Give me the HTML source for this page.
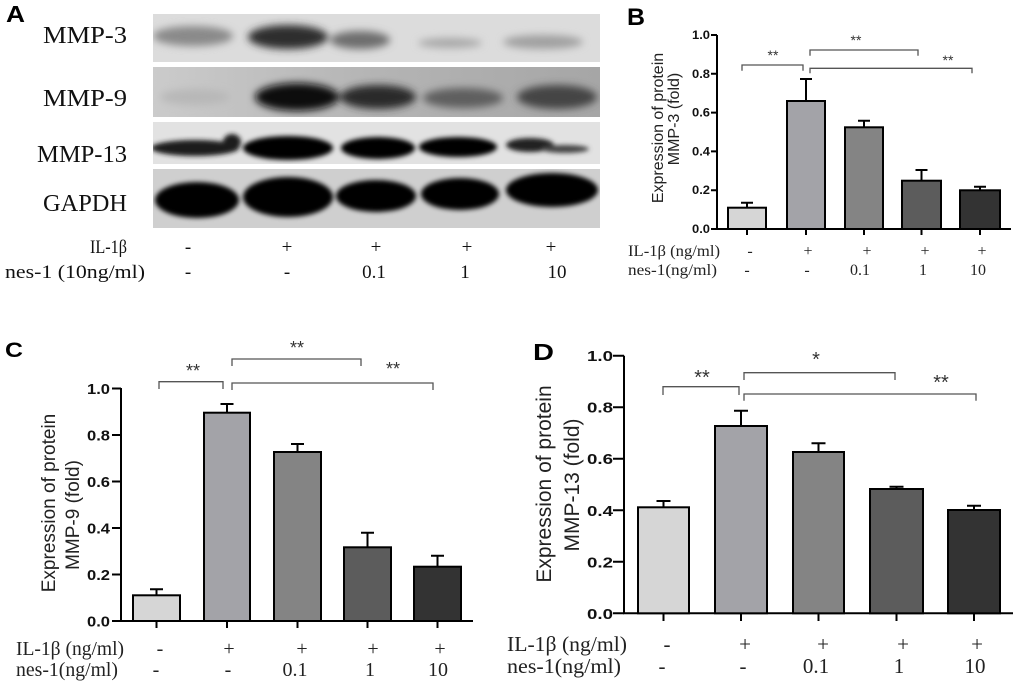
<!DOCTYPE html>
<html><head><meta charset="utf-8"><style>
html,body{margin:0;padding:0;background:#fff;}
svg{display:block;}
.s{font-family:"Liberation Sans",Arial,sans-serif;}
.r{font-family:"Liberation Serif","Times New Roman",serif;}
</style></head><body>
<svg width="1020" height="688" viewBox="0 0 1020 688" xmlns="http://www.w3.org/2000/svg">
<defs>
<filter id="bl" x="-50%" y="-100%" width="200%" height="300%"><feGaussianBlur stdDeviation="4"/></filter>
<filter id="bs" x="-50%" y="-100%" width="200%" height="300%"><feGaussianBlur stdDeviation="2.5"/></filter>
<clipPath id="k1"><rect x="153" y="14" width="447" height="48"/></clipPath>
<clipPath id="k2"><rect x="153" y="67" width="447" height="50"/></clipPath>
<clipPath id="k3"><rect x="153" y="122" width="447" height="42"/></clipPath>
<clipPath id="k4"><rect x="153" y="169" width="447" height="59"/></clipPath>
<linearGradient id="g9" x1="0" y1="0" x2="1" y2="0"><stop offset="0" stop-color="#cbcbcb"/><stop offset="0.5" stop-color="#b4b4b4"/><stop offset="1" stop-color="#a6a6a6"/></linearGradient>
</defs>
<rect width="1020" height="688" fill="#fff"/>

<!-- ===== Panel A ===== -->
<text class="s" x="6" y="22" font-size="23" font-weight="bold" textLength="19" lengthAdjust="spacingAndGlyphs">A</text>
<g class="r" font-size="24" text-anchor="end" fill="#111">
<text x="127" y="43" textLength="84" lengthAdjust="spacingAndGlyphs">MMP-3</text>
<text x="127" y="106" textLength="84" lengthAdjust="spacingAndGlyphs">MMP-9</text>
<text x="127" y="162" textLength="90" lengthAdjust="spacingAndGlyphs">MMP-13</text>
<text x="127" y="211" textLength="84" lengthAdjust="spacingAndGlyphs">GAPDH</text>
</g>
<!-- MMP-3 strip -->
<g clip-path="url(#k1)">
<rect x="153" y="14" width="447" height="48" fill="#dcdcdc"/>
<g filter="url(#bl)">
<ellipse cx="193" cy="36" rx="40" ry="10" fill="#8a8a8a"/>
<ellipse cx="288" cy="37" rx="40" ry="12" fill="#2e2e2e"/>
<ellipse cx="360" cy="40" rx="30" ry="9" fill="#6e6e6e"/>
<ellipse cx="450" cy="43" rx="32" ry="5" fill="#a8a8a8"/>
<ellipse cx="543" cy="42" rx="40" ry="7" fill="#a0a0a0"/>
</g>
</g>
<!-- MMP-9 strip -->
<g clip-path="url(#k2)">
<rect x="153" y="67" width="447" height="50" fill="url(#g9)"/>
<g filter="url(#bl)">
<ellipse cx="195" cy="97" rx="35" ry="8" fill="#b8b8b8"/>
<ellipse cx="297" cy="97" rx="42" ry="14" fill="#0c0c0c"/>
<ellipse cx="378" cy="97" rx="38" ry="12" fill="#2c2c2c"/>
<ellipse cx="463" cy="98" rx="40" ry="10" fill="#5e5e5e"/>
<ellipse cx="557" cy="97" rx="40" ry="12" fill="#444"/>
</g>
</g>
<!-- MMP-13 strip -->
<g clip-path="url(#k3)">
<rect x="153" y="122" width="447" height="42" fill="#e2e2e2"/>
<g filter="url(#bs)">
<ellipse cx="195" cy="148" rx="44" ry="8" fill="#1a1a1a"/>
<ellipse cx="232" cy="142" rx="9" ry="8" fill="#1a1a1a"/>
<ellipse cx="288" cy="148" rx="45" ry="12" fill="#000"/>
<ellipse cx="378" cy="148" rx="37" ry="11" fill="#000"/>
<ellipse cx="458" cy="147" rx="39" ry="10" fill="#000"/>
<ellipse cx="530" cy="145" rx="24" ry="7" fill="#222"/>
<ellipse cx="565" cy="149" rx="24" ry="4" fill="#444"/>
</g>
</g>
<!-- GAPDH strip -->
<g clip-path="url(#k4)">
<rect x="153" y="169" width="447" height="59" fill="#cfcfcf"/>
<g filter="url(#bs)">
<ellipse cx="197" cy="200" rx="42" ry="18" fill="#000"/>
<ellipse cx="288" cy="197" rx="45" ry="20" fill="#000"/>
<ellipse cx="376" cy="196" rx="40" ry="16" fill="#000"/>
<ellipse cx="460" cy="194" rx="39" ry="16" fill="#000"/>
<ellipse cx="552" cy="190" rx="46" ry="17" fill="#000"/>
</g>
</g>
<g class="r" font-size="19" fill="#111">
<text x="127" y="253" text-anchor="end" textLength="37" lengthAdjust="spacingAndGlyphs">IL-1β</text>
<text x="5" y="278" textLength="140" lengthAdjust="spacingAndGlyphs">nes-1 (10ng/ml)</text>
<g text-anchor="middle">
<text x="188" y="253">-</text><text x="287" y="253">+</text><text x="376" y="253">+</text><text x="467" y="253">+</text><text x="551" y="253">+</text>
<text x="188" y="278">-</text><text x="287" y="278">-</text><text x="374" y="278">0.1</text><text x="465" y="278">1</text><text x="557" y="278">10</text>
</g>
</g>

<!-- ===== Panel B ===== -->
<text class="s" x="627" y="25" font-size="24" font-weight="bold" textLength="18" lengthAdjust="spacingAndGlyphs">B</text>
<g class="s" font-size="16" fill="#222" text-anchor="middle">
<text transform="translate(663,128) rotate(-90)">Expression of protein</text>
<text transform="translate(679,119) rotate(-90)">MMP-3 (fold)</text>
</g>
<g class="s" font-size="12" font-weight="bold" text-anchor="end" fill="#111">
<text x="710" y="233" textLength="18" lengthAdjust="spacingAndGlyphs">0.0</text>
<text x="710" y="194.2" textLength="18" lengthAdjust="spacingAndGlyphs">0.2</text>
<text x="710" y="155.4" textLength="18" lengthAdjust="spacingAndGlyphs">0.4</text>
<text x="710" y="116.6" textLength="18" lengthAdjust="spacingAndGlyphs">0.6</text>
<text x="710" y="77.8" textLength="18" lengthAdjust="spacingAndGlyphs">0.8</text>
<text x="710" y="39" textLength="18" lengthAdjust="spacingAndGlyphs">1.0</text>
</g>
<g stroke="#000" stroke-width="2" fill="none">
<path d="M717 35 V229 H1011"/>
<path d="M711 229 H717 M711 190.2 H717 M711 151.4 H717 M711 112.6 H717 M711 73.8 H717 M711 35 H717"/>
<path d="M747 229 V235 M806 229 V235 M864 229 V235 M921.5 229 V235 M980 229 V235"/>
<path d="M747 207.7 V202.7 M741 202.7 H753 M806 101 V79 M800 79 H812 M864 127.3 V120.7 M858 120.7 H870 M921.5 180.7 V170 M915.5 170 H927.5 M980 190.3 V186.7 M974 186.7 H986"/>
</g>
<g stroke="#000" stroke-width="2">
<rect x="728" y="207.7" width="38" height="21.3" fill="#d6d6d6"/>
<rect x="787" y="101" width="38" height="128" fill="#a3a3a8"/>
<rect x="845" y="127.3" width="38" height="101.7" fill="#848484"/>
<rect x="902" y="180.7" width="39" height="48.3" fill="#5c5c5c"/>
<rect x="960" y="190.3" width="40" height="38.7" fill="#333333"/>
</g>
<g stroke="#555" stroke-width="1.3" fill="none">
<path d="M742 70.7 V65 H803 V70.7"/>
<path d="M810 55.7 V50 H918 V55.7"/>
<path d="M810 73.3 V68.3 H972 V73.3"/>
</g>
<g class="s" font-size="14" text-anchor="middle" fill="#333">
<text x="773" y="60">**</text><text x="856" y="45">**</text><text x="948" y="65">**</text>
</g>
<g class="r" font-size="16" fill="#222">
<text x="628" y="256" textLength="92" lengthAdjust="spacingAndGlyphs">IL-1β (ng/ml)</text>
<text x="628" y="275" textLength="89" lengthAdjust="spacingAndGlyphs">nes-1(ng/ml)</text>
<g text-anchor="middle">
<text x="750" y="256">-</text><text x="808" y="256">+</text><text x="867" y="256">+</text><text x="925" y="256">+</text><text x="982" y="256">+</text>
<text x="747" y="275">-</text><text x="807" y="275">-</text><text x="860" y="275">0.1</text><text x="923" y="275">1</text><text x="978" y="275">10</text>
</g>
</g>

<!-- ===== Panel C ===== -->
<text class="s" x="5" y="357" font-size="21" font-weight="bold" textLength="18" lengthAdjust="spacingAndGlyphs">C</text>
<g class="s" font-size="19" fill="#222" text-anchor="middle">
<text transform="translate(55,503) rotate(-90)">Expression of protein</text>
<text transform="translate(79,515) rotate(-90)">MMP-9 (fold)</text>
</g>
<g class="s" font-size="15" font-weight="bold" text-anchor="end" fill="#111">
<text x="110" y="626.5" textLength="23" lengthAdjust="spacingAndGlyphs">0.0</text>
<text x="110" y="580" textLength="23" lengthAdjust="spacingAndGlyphs">0.2</text>
<text x="110" y="533.5" textLength="23" lengthAdjust="spacingAndGlyphs">0.4</text>
<text x="110" y="487" textLength="23" lengthAdjust="spacingAndGlyphs">0.6</text>
<text x="110" y="440.5" textLength="23" lengthAdjust="spacingAndGlyphs">0.8</text>
<text x="110" y="394" textLength="23" lengthAdjust="spacingAndGlyphs">1.0</text>
</g>
<g stroke="#000" stroke-width="2" fill="none">
<path d="M121 388 V621 H473"/>
<path d="M112 621 H121 M112 574.5 H121 M112 528 H121 M112 481.5 H121 M112 435 H121 M112 388.5 H121"/>
<path d="M156.5 621 V628 M227 621 V628 M297.5 621 V628 M367.5 621 V628 M437.5 621 V628"/>
<path d="M156.5 595.3 V589.3 M150 589.3 H163 M227 412.7 V404 M220.5 404 H233.5 M297.5 452 V444 M291 444 H304 M367.5 547.3 V532.7 M361 532.7 H374 M437.5 566.7 V555.7 M431 555.7 H444"/>
</g>
<g stroke="#000" stroke-width="2">
<rect x="133" y="595.3" width="47" height="25.7" fill="#d6d6d6"/>
<rect x="204" y="412.7" width="46" height="208.3" fill="#a3a3a8"/>
<rect x="274" y="452" width="47" height="169" fill="#848484"/>
<rect x="344" y="547.3" width="47" height="73.7" fill="#5c5c5c"/>
<rect x="414" y="566.7" width="47" height="54.3" fill="#333333"/>
</g>
<g stroke="#555" stroke-width="1.3" fill="none">
<path d="M159 389 V381.7 H223 V389"/>
<path d="M232 366 V359 H361 V366"/>
<path d="M232 390 V383 H433 V390"/>
</g>
<g class="s" font-size="18" text-anchor="middle" fill="#333">
<text x="193" y="377">**</text><text x="297" y="354">**</text><text x="393" y="375">**</text>
</g>
<g class="r" font-size="20" fill="#222">
<text x="16" y="655" textLength="108" lengthAdjust="spacingAndGlyphs">IL-1β (ng/ml)</text>
<text x="16" y="676" textLength="102" lengthAdjust="spacingAndGlyphs">nes-1(ng/ml)</text>
<g text-anchor="middle">
<text x="160" y="655">-</text><text x="229" y="655">+</text><text x="302" y="655">+</text><text x="373" y="655">+</text><text x="440" y="655">+</text>
<text x="156" y="676">-</text><text x="228" y="676">-</text><text x="295" y="676">0.1</text><text x="370" y="676">1</text><text x="438" y="676">10</text>
</g>
</g>

<!-- ===== Panel D ===== -->
<text class="s" x="533" y="360" font-size="23" font-weight="bold" textLength="21" lengthAdjust="spacingAndGlyphs">D</text>
<g class="s" font-size="21" fill="#222" text-anchor="middle">
<text transform="translate(551,484) rotate(-90)">Expression of protein</text>
<text transform="translate(579,485) rotate(-90)">MMP-13 (fold)</text>
</g>
<g class="s" font-size="15" font-weight="bold" text-anchor="end" fill="#111">
<text x="613" y="618.8" textLength="26" lengthAdjust="spacingAndGlyphs">0.0</text>
<text x="613" y="567.3" textLength="26" lengthAdjust="spacingAndGlyphs">0.2</text>
<text x="613" y="515.8" textLength="26" lengthAdjust="spacingAndGlyphs">0.4</text>
<text x="613" y="464.2" textLength="26" lengthAdjust="spacingAndGlyphs">0.6</text>
<text x="613" y="412.7" textLength="26" lengthAdjust="spacingAndGlyphs">0.8</text>
<text x="613" y="361.2" textLength="26" lengthAdjust="spacingAndGlyphs">1.0</text>
</g>
<g stroke="#000" stroke-width="2" fill="none">
<path d="M624 355.7 V613.3 H1013"/>
<path d="M613 613.3 H624 M613 561.8 H624 M613 510.3 H624 M613 458.7 H624 M613 407.2 H624 M613 355.7 H624"/>
<path d="M663.5 613.3 V621 M741 613.3 V621 M818.5 613.3 V621 M896.5 613.3 V621 M974 613.3 V621"/>
<path d="M663.5 507.3 V501 M656.5 501 H670.5 M741 426 V410.7 M734 410.7 H748 M818.5 452 V443.3 M811.5 443.3 H825.5 M896.5 489 V486.7 M889.5 486.7 H903.5 M974 510 V505.7 M967 505.7 H981"/>
</g>
<g stroke="#000" stroke-width="2">
<rect x="638" y="507.3" width="51" height="106" fill="#d6d6d6"/>
<rect x="715" y="426" width="52" height="187.3" fill="#a3a3a8"/>
<rect x="793" y="452" width="51" height="161.3" fill="#848484"/>
<rect x="870" y="489" width="53" height="124.3" fill="#5c5c5c"/>
<rect x="948" y="510" width="52" height="103.3" fill="#333333"/>
</g>
<g stroke="#555" stroke-width="1.3" fill="none">
<path d="M663 395 V386.7 H739 V395"/>
<path d="M744 380 V372.7 H895 V380"/>
<path d="M744 400.7 V394 H976 V400.7"/>
</g>
<g class="s" font-size="20" text-anchor="middle" fill="#333">
<text x="702" y="384">**</text><text x="816" y="366">*</text><text x="941" y="389">**</text>
</g>
<g class="r" font-size="21" fill="#222">
<text x="507" y="651" textLength="120" lengthAdjust="spacingAndGlyphs">IL-1β (ng/ml)</text>
<text x="507" y="673" textLength="114" lengthAdjust="spacingAndGlyphs">nes-1(ng/ml)</text>
<g text-anchor="middle">
<text x="667" y="651">-</text><text x="745" y="651">+</text><text x="823" y="651">+</text><text x="903" y="651">+</text><text x="977" y="651">+</text>
<text x="662" y="673">-</text><text x="743" y="673">-</text><text x="816" y="673">0.1</text><text x="899" y="673">1</text><text x="975" y="673">10</text>
</g>
</g>
</svg>
</body></html>
